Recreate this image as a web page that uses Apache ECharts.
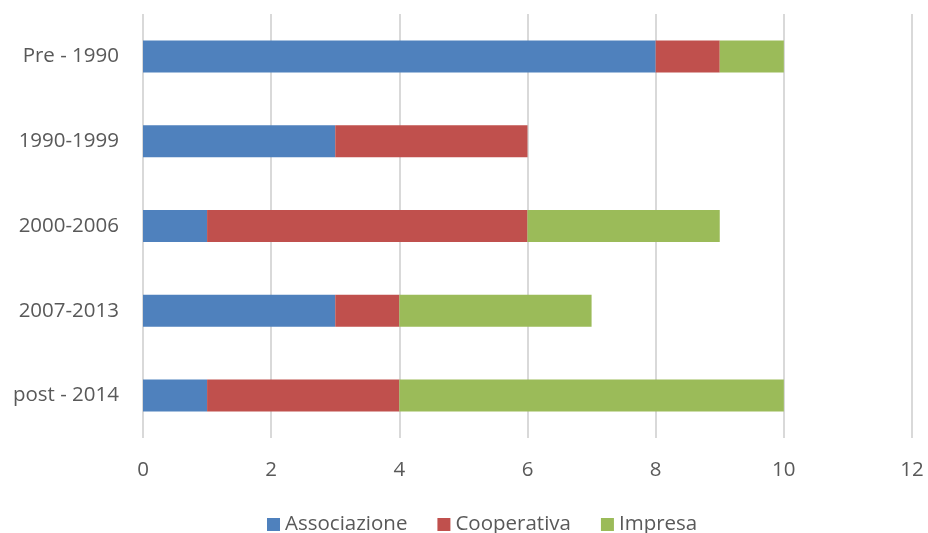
<!DOCTYPE html>
<html><head><meta charset="utf-8">
<script src="https://cdn.jsdelivr.net/npm/echarts@6/dist/echarts.min.js"></script>
<style>html,body{margin:0;padding:0;background:#fff}#c{width:928px;height:533px}</style>
</head><body><div id="c"></div>
<script>
const categories = ['Pre - 1990', '1990-1999', '2000-2006', '2007-2013', 'post - 2014'];
const associazione = [8, 3, 1, 3, 1];
const cooperativa = [1, 3, 5, 1, 3];
const impresa = [1, 0, 3, 3, 6];
const xTicks = [0, 2, 4, 6, 8, 10, 12];

const font = 'Open Sans';
const fs = 20.5;
const chart = echarts.init(document.getElementById('c'), null, {renderer: 'canvas'});
const mk = (name, data, color) => ({
  name, type: 'bar', stack: 'total', data, barWidth: 32,
  itemStyle: {color}, emphasis: {disabled: true}
});
chart.setOption({
  animation: false,
  textStyle: {fontFamily: font},
  grid: {left: 143, right: 16, top: 14, bottom: 95, containLabel: false},
  legend: {
    left: 262, top: 509, itemWidth: 13, itemHeight: 13, itemGap: 30, icon: 'rect',
    textStyle: {fontSize: fs, color: '#595959', fontFamily: font},
    data: ['Associazione', 'Cooperativa', 'Impresa']
  },
  xAxis: {
    type: 'value', min: xTicks[0], max: xTicks[xTicks.length - 1], interval: 2,
    axisLine: {show: false}, axisTick: {show: false},
    splitLine: {lineStyle: {color: '#d9d9d9', width: 2}},
    axisLabel: {fontSize: fs, color: '#595959', margin: 22, fontFamily: font}
  },
  yAxis: {
    type: 'category', data: categories, inverse: true,
    axisLine: {show: false}, axisTick: {show: false},
    axisLabel: {fontSize: fs, color: '#595959', margin: 24, fontFamily: font}
  },
  series: [
    mk('Associazione', associazione, '#4f81bd'),
    mk('Cooperativa', cooperativa, '#c0504d'),
    mk('Impresa', impresa, '#9bbb59')
  ]
});
</script></body></html>
